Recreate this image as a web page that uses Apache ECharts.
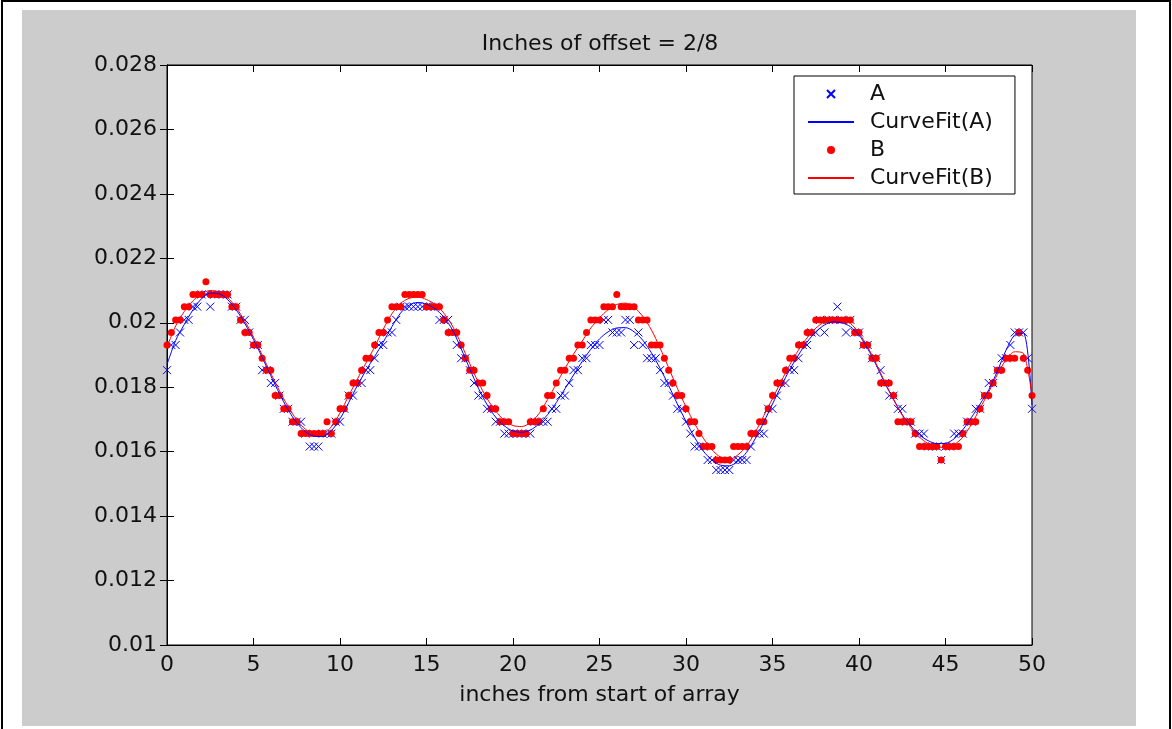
<!DOCTYPE html>
<html>
<head>
<meta charset="utf-8">
<script src="https://cdn.jsdelivr.net/npm/echarts@6/dist/echarts.min.js"></script>
<style>
html,body{margin:0;padding:0;background:#fff;}
#frame{position:absolute;left:1px;top:0px;width:1166px;height:740px;border:2px solid #000;background:#fff;}
#panel{position:absolute;left:22px;top:10px;width:1114px;height:716px;background:#cccccc;}
#chart{position:absolute;left:0;top:0;width:1172px;height:729px;}
</style>
</head>
<body>
<div id="frame"></div>
<div id="panel"></div>
<div id="chart"></div>
<script>
const titleText = 'Inches of offset = 2/8';
const xAxisName = 'inches from start of array';
const seriesNames = ['A', 'CurveFit(A)', 'B', 'CurveFit(B)'];

// sample positions (inches)
const xData = [
0,0.25,0.5,0.75,1,1.25,1.5,1.75,2,2.25,2.5,2.75,3,3.25,3.5,3.75,4,4.25,4.5,4.75,
5,5.25,5.5,5.75,6,6.25,6.5,6.75,7,7.25,7.5,7.75,8,8.25,8.5,8.75,9,9.25,9.5,9.75,
10,10.25,10.5,10.75,11,11.25,11.5,11.75,12,12.25,12.5,12.75,13,13.25,13.5,13.75,14,14.25,14.5,14.75,
15,15.25,15.5,15.75,16,16.25,16.5,16.75,17,17.25,17.5,17.75,18,18.25,18.5,18.75,19,19.25,19.5,19.75,
20,20.25,20.5,20.75,21,21.25,21.5,21.75,22,22.25,22.5,22.75,23,23.25,23.5,23.75,24,24.25,24.5,24.75,
25,25.25,25.5,25.75,26,26.25,26.5,26.75,27,27.25,27.5,27.75,28,28.25,28.5,28.75,29,29.25,29.5,29.75,
30,30.25,30.5,30.75,31,31.25,31.5,31.75,32,32.25,32.5,32.75,33,33.25,33.5,33.75,34,34.25,34.5,34.75,
35,35.25,35.5,35.75,36,36.25,36.5,36.75,37,37.25,37.5,37.75,38,38.25,38.5,38.75,39,39.25,39.5,39.75,
40,40.25,40.5,40.75,41,41.25,41.5,41.75,42,42.25,42.5,42.75,43,43.25,43.5,43.75,44,44.25,44.5,44.75,
45,45.25,45.5,45.75,46,46.25,46.5,46.75,47,47.25,47.5,47.75,48,48.25,48.5,48.75,49,49.25,49.5,49.75,
50];

const valuesA = [
0.01853,0.01931,0.01931,0.01970,0.02009,0.02009,0.02050,0.02050,
0.02088,0.02088,0.02050,0.02088,0.02088,0.02088,0.02088,0.02050,
0.02050,0.02009,0.02009,0.01970,0.01931,0.01931,0.01853,0.01853,
0.01813,0.01813,0.01774,0.01733,0.01733,0.01693,0.01693,0.01693,
0.01656,0.01616,0.01616,0.01616,0.01656,0.01656,0.01656,0.01693,
0.01693,0.01733,0.01774,0.01774,0.01813,0.01813,0.01853,0.01853,
0.01890,0.01931,0.01931,0.01970,0.01970,0.02009,0.02050,0.02050,
0.02050,0.02050,0.02050,0.02050,0.02050,0.02050,0.02050,0.02009,
0.02009,0.02009,0.01970,0.01931,0.01890,0.01890,0.01853,0.01813,
0.01774,0.01774,0.01733,0.01733,0.01693,0.01693,0.01656,0.01656,
0.01656,0.01656,0.01656,0.01656,0.01656,0.01693,0.01693,0.01693,
0.01693,0.01733,0.01733,0.01774,0.01774,0.01813,0.01853,0.01853,
0.01890,0.01890,0.01931,0.01931,0.01931,0.02009,0.02009,0.01970,
0.01970,0.01970,0.02009,0.02009,0.01931,0.01970,0.01931,0.01890,
0.01890,0.01890,0.01853,0.01813,0.01813,0.01774,0.01733,0.01733,
0.01693,0.01656,0.01616,0.01616,0.01616,0.01574,0.01574,0.01543,
0.01543,0.01543,0.01543,0.01574,0.01574,0.01574,0.01574,0.01616,
0.01656,0.01656,0.01656,0.01733,0.01733,0.01774,0.01813,0.01813,
0.01853,0.01853,0.01890,0.01931,0.01931,0.01970,0.01970,0.02009,
0.01970,0.02009,0.02009,0.02050,0.02009,0.01970,0.02009,0.01970,
0.01970,0.01931,0.01931,0.01890,0.01890,0.01853,0.01813,0.01774,
0.01774,0.01733,0.01733,0.01693,0.01693,0.01656,0.01656,0.01656,
0.01616,0.01616,0.01616,0.01574,0.01616,0.01616,0.01656,0.01656,
0.01656,0.01693,0.01693,0.01733,0.01733,0.01774,0.01813,0.01813,
0.01853,0.01890,0.01890,0.01931,0.01970,0.01970,0.01970,0.01890,
0.01733];

const valuesB = [
0.01931,0.01970,0.02009,0.02009,0.02050,0.02050,0.02088,0.02088,
0.02088,0.02127,0.02088,0.02088,0.02088,0.02088,0.02088,0.02050,
0.02050,0.02009,0.01970,0.01970,0.01931,0.01931,0.01890,0.01853,
0.01853,0.01774,0.01774,0.01733,0.01733,0.01693,0.01693,0.01656,
0.01656,0.01656,0.01656,0.01656,0.01656,0.01693,0.01656,0.01693,
0.01733,0.01733,0.01774,0.01813,0.01813,0.01853,0.01890,0.01890,
0.01931,0.01970,0.01970,0.02009,0.02050,0.02050,0.02050,0.02088,
0.02088,0.02088,0.02088,0.02088,0.02050,0.02050,0.02050,0.02050,
0.02009,0.01970,0.01970,0.01970,0.01931,0.01890,0.01853,0.01853,
0.01813,0.01813,0.01774,0.01733,0.01733,0.01693,0.01693,0.01693,
0.01656,0.01656,0.01656,0.01656,0.01693,0.01693,0.01693,0.01733,
0.01774,0.01774,0.01813,0.01853,0.01853,0.01890,0.01890,0.01931,
0.01931,0.01970,0.02009,0.02009,0.02009,0.02050,0.02050,0.02050,
0.02088,0.02050,0.02050,0.02050,0.02050,0.02009,0.02009,0.02009,
0.01931,0.01931,0.01931,0.01890,0.01853,0.01813,0.01774,0.01774,
0.01733,0.01693,0.01693,0.01656,0.01616,0.01616,0.01616,0.01574,
0.01574,0.01574,0.01574,0.01616,0.01616,0.01616,0.01616,0.01656,
0.01656,0.01693,0.01693,0.01733,0.01774,0.01813,0.01813,0.01853,
0.01890,0.01890,0.01931,0.01931,0.01970,0.01970,0.02009,0.02009,
0.02009,0.02009,0.02009,0.02009,0.02009,0.02009,0.02009,0.01970,
0.01970,0.01931,0.01931,0.01890,0.01890,0.01813,0.01813,0.01813,
0.01774,0.01693,0.01693,0.01693,0.01693,0.01656,0.01616,0.01616,
0.01616,0.01616,0.01616,0.01574,0.01616,0.01616,0.01616,0.01616,
0.01656,0.01693,0.01693,0.01693,0.01733,0.01774,0.01774,0.01813,
0.01853,0.01853,0.01890,0.01890,0.01890,0.01970,0.01890,0.01853,
0.01774];

// curve-fit positions (inches)
const xFit = [
0,0.5,1,1.5,2,2.5,3,3.5,4,4.5,5,5.5,6,6.5,7,7.5,8,8.5,9,9.5,
10,10.5,11,11.5,12,12.5,13,13.5,14,14.5,15,15.5,16,16.5,17,17.5,18,18.5,19,19.5,
20,20.5,21,21.5,22,22.5,23,23.5,24,24.5,25,25.5,26,26.5,27,27.5,28,28.5,29,29.5,
30,30.5,31,31.5,32,32.5,33,33.5,34,34.5,35,35.5,36,36.5,37,37.5,38,38.5,39,39.5,
40,40.5,41,41.5,42,42.5,43,43.5,44,44.5,45,45.5,46,46.5,47,47.5,48,48.5,49,49.5,
50];

const fitA = [
0.01870,0.01945,0.01995,0.02040,0.02075,0.02092,0.02090,0.02072,0.02040,0.01998,
0.01948,0.01893,0.01836,0.01780,0.01730,0.01690,0.01662,0.01648,0.01647,0.01665,
0.01702,0.01752,0.01805,0.01852,0.01895,0.01940,0.01988,0.02030,0.02055,0.02063,
0.02058,0.02043,0.02018,0.01978,0.01920,0.01857,0.01797,0.01746,0.01707,0.01680,
0.01664,0.01660,0.01667,0.01686,0.01715,0.01752,0.01795,0.01838,0.01880,0.01918,
0.01950,0.01972,0.01984,0.01985,0.01972,0.01946,0.01907,0.01859,0.01805,0.01748,
0.01694,0.01644,0.01602,0.01574,0.01558,0.01556,0.01570,0.01598,0.01640,0.01692,
0.01748,0.01803,0.01855,0.01900,0.01940,0.01972,0.01993,0.02003,0.02000,0.01988,
0.01962,0.01920,0.01868,0.01812,0.01762,0.01715,0.01680,0.01652,0.01634,0.01625,
0.01626,0.01640,0.01668,0.01706,0.01748,0.01792,0.01850,0.01915,0.01962,0.01968,
0.01745];

const fitB = [
0.01925,0.01990,0.02035,0.02068,0.02090,0.02100,0.02096,0.02078,0.02047,0.02005,
0.01955,0.01900,0.01843,0.01789,0.01740,0.01699,0.01670,0.01655,0.01656,0.01677,
0.01720,0.01773,0.01825,0.01875,0.01925,0.01980,0.02028,0.02060,0.02076,0.02080,
0.02072,0.02057,0.02030,0.01990,0.01935,0.01873,0.01815,0.01765,0.01726,0.01697,
0.01681,0.01678,0.01690,0.01718,0.01762,0.01810,0.01858,0.01903,0.01943,0.01984,
0.02015,0.02041,0.02057,0.02061,0.02048,0.02020,0.01978,0.01922,0.01860,0.01797,
0.01739,0.01687,0.01642,0.01606,0.01583,0.01576,0.01590,0.01618,0.01660,0.01712,
0.01765,0.01818,0.01870,0.01915,0.01953,0.01983,0.02003,0.02013,0.02012,0.01998,
0.01968,0.01925,0.01872,0.01815,0.01762,0.01713,0.01675,0.01645,0.01625,0.01615,
0.01613,0.01622,0.01645,0.01685,0.01735,0.01785,0.01840,0.01885,0.01910,0.01905,
0.01772];

const xTicks = [0, 50, 5];          // min, max, interval
const yTicks = [0.01, 0.028, 0.002]; // min, max, interval

const pair = (xs, ys) => xs.map((x, i) => [x, ys[i]]);

const FONT = 'DejaVu Sans';
const txt = {fontFamily: FONT, fontSize: 22, color: '#111'};
const crossPath = 'path://M0,0L10,10M0,10L10,0';

const chart = echarts.init(document.getElementById('chart'), null, {renderer: 'canvas'});

const axisCommon = {
  axisLine: {show: true, lineStyle: {color: '#000', width: 1}},
  axisTick: {show: true, inside: true, length: 7, lineStyle: {color: '#000', width: 1}},
  splitLine: {show: false}
};

chart.setOption({
  animation: false,
  backgroundColor: 'transparent',
  title: {
    text: titleText,
    left: 595, top: 28,
    textAlign: 'center',
    textStyle: Object.assign({fontWeight: 'normal'}, txt)
  },
  grid: {
    left: 167, top: 65, right: 140, bottom: 84,
    show: true, backgroundColor: '#fff', borderColor: '#000', borderWidth: 1
  },
  legend: {
    orient: 'vertical', align: 'left',
    left: 794, top: 76,
    itemWidth: 46, itemHeight: 8, itemGap: 6,
    padding: [7, 22, 5, 13],
    backgroundColor: '#fff', borderColor: '#000', borderWidth: 1,
    textStyle: Object.assign({lineHeight: 22, padding: [0, 0, 0, 11]}, txt),
    data: [
      {name: seriesNames[0]},
      {name: seriesNames[1], itemStyle: {opacity: 0}},
      {name: seriesNames[2]},
      {name: seriesNames[3], itemStyle: {opacity: 0}}
    ]
  },
  xAxis: [
    Object.assign({
      type: 'value', position: 'bottom',
      min: xTicks[0], max: xTicks[1], interval: xTicks[2],
      name: xAxisName, nameLocation: 'middle', nameGap: 39,
      nameTextStyle: txt,
      axisLabel: Object.assign({margin: 9}, txt)
    }, axisCommon),
    Object.assign({
      type: 'value', position: 'top',
      min: xTicks[0], max: xTicks[1], interval: xTicks[2],
      axisLabel: {show: false}
    }, axisCommon)
  ],
  yAxis: [
    Object.assign({
      type: 'value', position: 'left',
      min: yTicks[0], max: yTicks[1], interval: yTicks[2],
      axisLabel: Object.assign({margin: 10, formatter: v => String(+v.toFixed(3))}, txt)
    }, axisCommon),
    Object.assign({
      type: 'value', position: 'right',
      min: yTicks[0], max: yTicks[1], interval: yTicks[2],
      axisLabel: {show: false}
    }, axisCommon)
  ],
  series: [
    {
      name: seriesNames[0], type: 'scatter',
      symbol: crossPath, symbolSize: 8,
      itemStyle: {color: 'rgba(0,0,0,0)', borderColor: '#0000ff', borderWidth: 1, opacity: 1},
      data: pair(xData, valuesA)
    },
    {
      name: seriesNames[1], type: 'line',
      symbol: 'none', showSymbol: false, smooth: 0.3,
      lineStyle: {color: '#0000ff', width: 1},
      itemStyle: {color: '#0000ff'},
      data: pair(xFit, fitA)
    },
    {
      name: seriesNames[2], type: 'scatter',
      symbol: 'circle', symbolSize: 7,
      itemStyle: {color: '#ff0000', opacity: 1},
      data: pair(xData, valuesB)
    },
    {
      name: seriesNames[3], type: 'line',
      symbol: 'none', showSymbol: false, smooth: 0.3,
      lineStyle: {color: '#ff0000', width: 1},
      itemStyle: {color: '#ff0000'},
      data: pair(xFit, fitB)
    }
  ]
});
</script>
</body>
</html>
